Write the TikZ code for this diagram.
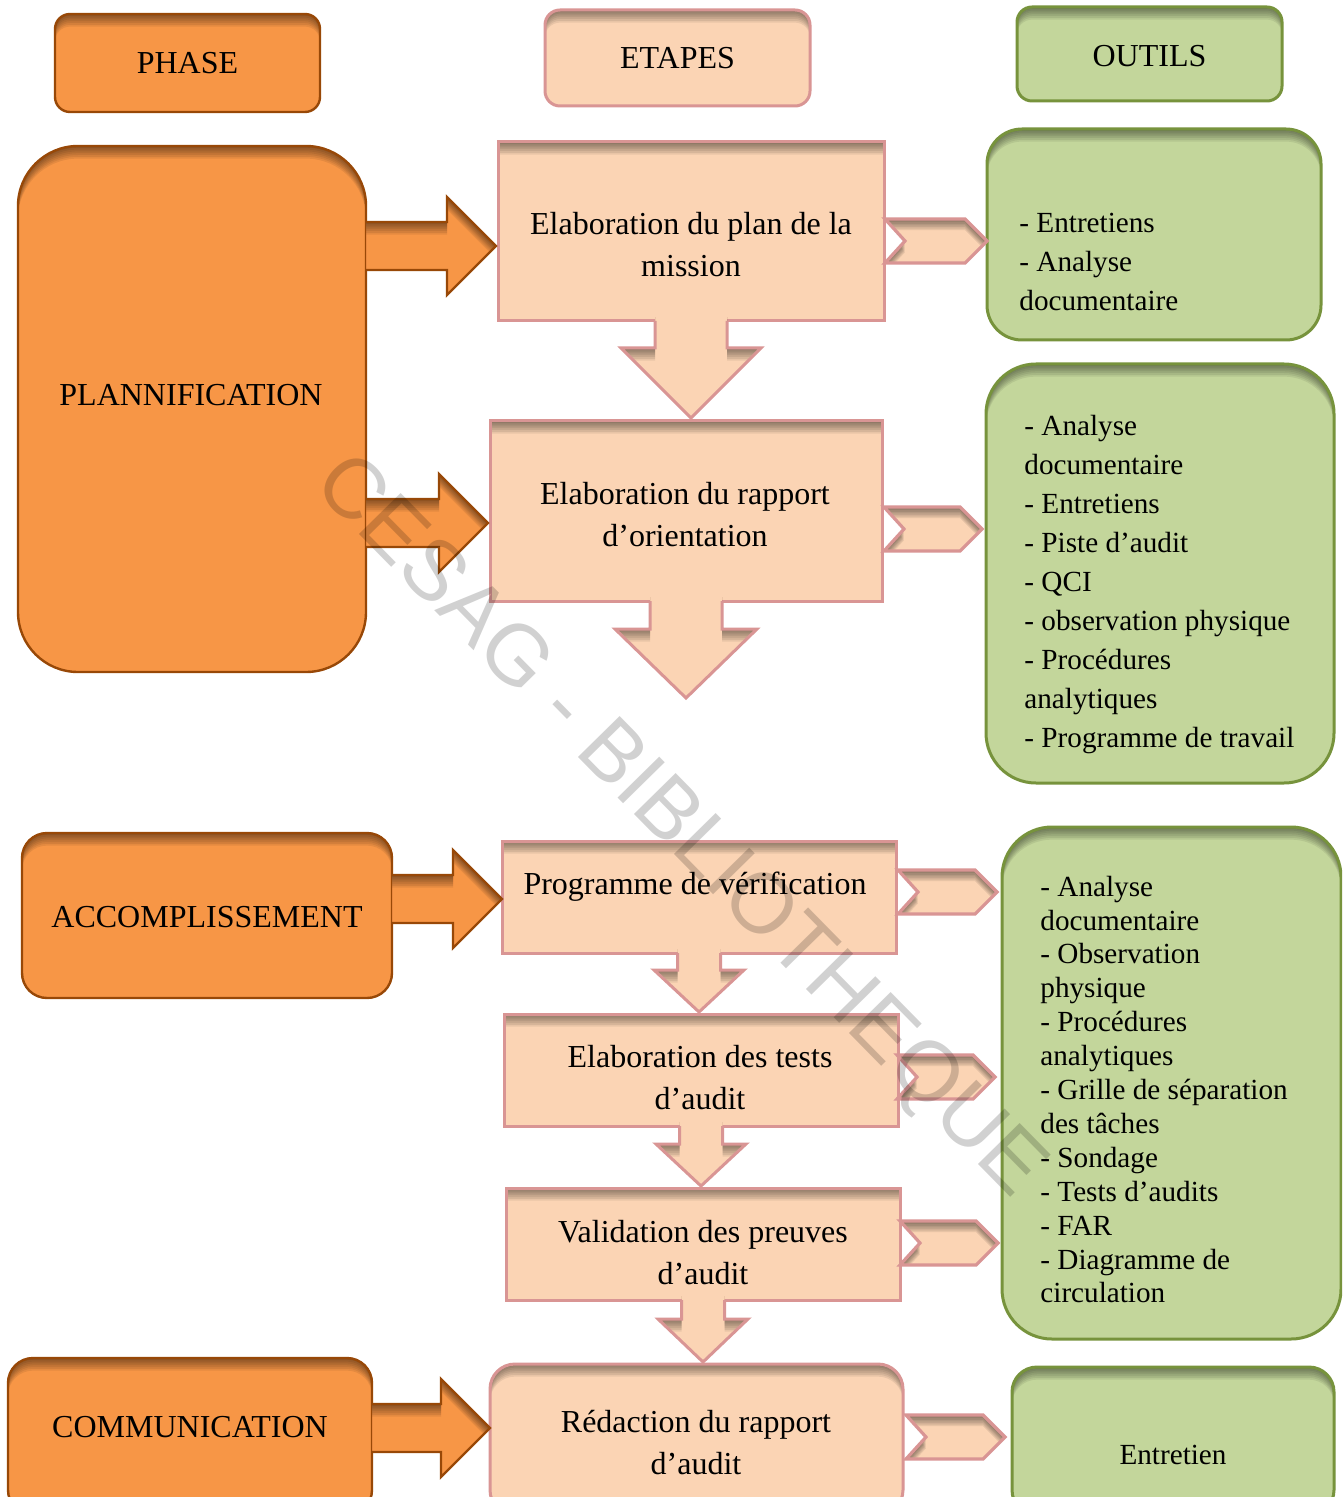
\documentclass[tikz,border=0pt]{standalone}
\usepackage{fontspec}
\setmainfont{Liberation Serif}
\newfontfamily\wmfont{Liberation Sans}
\usetikzlibrary{calc}

\definecolor{orfill}{HTML}{F79646}
\definecolor{ordraw}{HTML}{984807}
\definecolor{pefill}{HTML}{FBD4B4}
\definecolor{pedraw}{HTML}{D99594}
\definecolor{grfill}{HTML}{C3D69B}
\definecolor{grdraw}{HTML}{77933C}

\tikzset{
  inshadow/.style={path picture={
    \foreach \k in {1,...,7}{
      \fill[black,opacity=0.075,even odd rule,rounded corners=#1]
        ([shift={(-40pt,40pt)}]path picture bounding box.north west) rectangle ([shift={(40pt,-40pt)}]path picture bounding box.south east)
        ([yshift=-\k*0.9pt]path picture bounding box.north west) rectangle ([yshift=-\k*0.9pt]path picture bounding box.south east);
    }}},
  basebox/.style={inner sep=0pt, outer sep=0pt},
  phasebox/.style={basebox, fill=orfill, draw=ordraw, line width=1.2pt, rounded corners=#1, inshadow=#1},
  phasebox/.default=0pt,
  stepbox/.style={basebox, fill=pefill, draw=pedraw, line width=1.5pt, rounded corners=#1, inshadow=#1},
  stepbox/.default=0pt,
  toolbox/.style={basebox, fill=grfill, draw=grdraw, line width=1.5pt, rounded corners=#1, inshadow=#1},
  toolbox/.default=0pt,
  steptext/.style={font=\fontsize{16}{21}\selectfont, align=center, inner sep=0pt},
  tooltext/.style={font=\fontsize{14.6}{19.5}\selectfont, align=left, anchor=north west, inner sep=0pt},
}

% outline of an orange block arrow: tail centre, tip, downward offset
\newcommand\orarrowpath[3]{($(#1)+(0,-24+#3)$) -- ($(#2)+(-49,-24+#3)$) -- ($(#2)+(-49,-49+#3)$) -- ($(#2)+(0,#3)$) -- ($(#2)+(-49,49+#3)$) -- ($(#2)+(-49,24+#3)$) -- ($(#1)+(0,24+#3)$)}
% outline of a downward block arrow: start, tip, shaft half width, head half width, head length, offset, extension above start
\newcommand\dnarrowpath[7]{($(#1)+(-#3,-#7+#6)$) -- ($(#2)+(-#3,-#5+#6)$) -- ($(#2)+(-#4,-#5+#6)$) -- ($(#2)+(0,#6)$) -- ($(#2)+(#4,-#5+#6)$) -- ($(#2)+(#3,-#5+#6)$) -- ($(#1)+(#3,-#7+#6)$)}
% outline of a notched chevron: mouth centre, tip, offset
\newcommand\chevronpath[3]{($(#1)+(0,-22+#3)$) -- ($(#2)+(-22,-22+#3)$) -- ($(#2)+(0,#3)$) -- ($(#2)+(-22,22+#3)$) -- ($(#1)+(0,22+#3)$) -- ($(#1)+(20,#3)$)}

\newcommand\orangearrow[2]{%
  \fill[orfill] \orarrowpath{#1}{#2}{0} -- cycle;
  \begin{scope}
    \clip \orarrowpath{#1}{#2}{0} -- cycle;
    \foreach \k in {1,...,7}{
      \fill[black,opacity=0.075,even odd rule] (-300,-300) rectangle (1700,1800) \orarrowpath{#1}{#2}{\k*1.8} -- cycle;
    }
  \end{scope}
  \draw[ordraw,line width=1.2pt] \orarrowpath{#1}{#2}{0};
}
\newcommand\peachdown[5]{%
  \fill[pefill] \dnarrowpath{#1}{#2}{#3}{#4}{#5}{0}{4} -- cycle;
  \begin{scope}
    \clip \dnarrowpath{#1}{#2}{#3}{#4}{#5}{0}{4} -- cycle;
    \foreach \k in {1,...,7}{
      \fill[black,opacity=0.075,even odd rule] (-300,-300) rectangle (1700,1800) \dnarrowpath{#1}{#2}{#3}{#4}{#5}{\k*1.8}{60} -- cycle;
    }
  \end{scope}
  \draw[pedraw,line width=1.5pt] \dnarrowpath{#1}{#2}{#3}{#4}{#5}{0}{0};
}
\newcommand\peachchevron[2]{%
  \fill[pefill] \chevronpath{#1}{#2}{0} -- cycle;
  \begin{scope}
    \clip \chevronpath{#1}{#2}{0} -- cycle;
    \foreach \k in {1,...,7}{
      \fill[black,opacity=0.08,even odd rule] (-300,-300) rectangle (1700,1800) \chevronpath{#1}{#2}{\k*1.6} -- cycle;
    }
  \end{scope}
  \draw[pedraw,line width=1.6pt] \chevronpath{#1}{#2}{0} -- cycle;
}

\begin{document}
\begin{tikzpicture}[x=0.5pt,y=-0.5pt]
\fill[white] (0,0) rectangle (1342,1497);
\useasboundingbox (0,0) rectangle (1342,1497);
\clip (0,0) rectangle (1342,1497);

% column headers
\node[phasebox=7.5pt, minimum width=132.5pt, minimum height=49pt, steptext] (hphase) at (187.5,63) {PHASE};
\node[stepbox=7.5pt, minimum width=132.5pt, minimum height=48pt, steptext] (hsteps) at (677.5,58) {ETAPES};
\node[toolbox=7.5pt, minimum width=132.5pt, minimum height=47pt] (htools) at (1149.5,54) {};
\node[steptext] (htoolst) at (1149.5,56) {OUTILS};

% phases
\node[phasebox=30pt, minimum width=174pt, minimum height=263pt] (plan) at (192,409) {};
\node[steptext] (plantext) at (191,395) {PLANNIFICATION};
\node[phasebox=12.5pt, minimum width=185pt, minimum height=82.5pt] (acc) at (207,915.5) {};
\node[steptext] (acctext) at (207,917) {ACCOMPLISSEMENT};
\node[phasebox=12.5pt, minimum width=182pt, minimum height=78.5pt] (comm) at (190,1436.5) {};
\node[steptext] (commtext) at (190,1427) {COMMUNICATION};

% steps
\node[stepbox, minimum width=193pt, minimum height=89.5pt] (e1) at (691,231.5) {};
\node[steptext] (e1t) at (691,245) {Elaboration du plan de la\\mission};
\node[stepbox, minimum width=196pt, minimum height=90pt] (e2) at (686,511) {};
\node[steptext] (e2t) at (685,515) {Elaboration du rapport\\d’orientation};
\node[stepbox, minimum width=197pt, minimum height=56pt] (e3) at (699,897) {};
\node[steptext] (e3t) at (695,887) {Programme de vérification};
\node[stepbox, minimum width=197pt, minimum height=56pt] (e4) at (701,1070) {};
\node[steptext] (e4t) at (700,1078) {Elaboration des tests\\d’audit};
\node[stepbox, minimum width=197pt, minimum height=56pt] (e5) at (703,1244) {};
\node[steptext] (e5t) at (703,1252.5) {Validation des preuves\\d’audit};
\node[stepbox=12.5pt, minimum width=206.5pt, minimum height=75.5pt] (e6) at (696.5,1439.5) {};
\node[steptext] (e6t) at (696,1443) {Rédaction du rapport\\d’audit};

% tools
\node[toolbox=17.5pt, minimum width=167pt, minimum height=105.5pt] (g1) at (1154,234.5) {};
\node[tooltext] (g1t) at (1019,213) {- Entretiens\\- Analyse\\documentaire};
\node[toolbox=25pt, minimum width=174pt, minimum height=209.5pt] (g2) at (1160,573.5) {};
\node[tooltext] (g2t) at (1024,415) {- Analyse\\documentaire\\- Entretiens\\- Piste d’audit\\- QCI\\- observation physique\\- Procédures\\analytiques\\- Programme de travail};
\node[toolbox=25pt, minimum width=169.5pt, minimum height=256pt] (g3) at (1171.5,1083) {};
\node[tooltext, font=\fontsize{14.6}{16.95}\selectfont] (g3t) at (1040,875.5) {- Analyse\\documentaire\\- Observation\\physique\\- Procédures\\analytiques\\- Grille de séparation\\des tâches\\- Sondage\\- Tests d’audits\\- FAR\\- Diagramme de\\circulation};
\node[toolbox=12.5pt, minimum width=161pt, minimum height=74pt] (g4) at (1173,1441) {};
\node[steptext, font=\fontsize{14.6}{19.5}\selectfont] (g4t) at (1173,1455) {Entretien};

% phase -> step arrows
\coordinate (a1t) at ($(e1.west)+(-2,14.5)$);
\coordinate (a1s) at (plan.east |- a1t);
\coordinate (a2t) at ($(e2.west)+(-2,12)$);
\coordinate (a2s) at (plan.east |- a2t);
\coordinate (a3t) at ($(e3.west)+(0,2)$);
\coordinate (a3s) at (acc.east |- a3t);
\coordinate (a4t) at ($(e6.west)+(0,-11.5)$);
\coordinate (a4s) at (comm.east |- a4t);
\orangearrow{a1s}{a1t}
\orangearrow{a2s}{a2t}
\orangearrow{a3s}{a3t}
\orangearrow{a4s}{a4t}

% step -> step arrows
\coordinate (d1t) at ($(e1.south |- e2.north)+(0,-3)$);
\coordinate (d2t) at ($(e2.south)+(0,97)$);
\coordinate (d3t) at ($(e3.south |- e4.north)+(0,-2)$);
\coordinate (d4t) at ($(e4.south |- e5.north)+(0,-2)$);
\coordinate (d5t) at ($(e5.south |- e6.north)+(0,-2)$);
\peachdown{e1.south}{d1t}{36}{70}{70}
\peachdown{e2.south}{d2t}{36}{71}{69}
\peachdown{e3.south}{d3t}{21.5}{45}{42}
\peachdown{e4.south}{d4t}{21.5}{45}{42}
\peachdown{e5.south}{d5t}{21.5}{45}{43}

% step -> tool chevrons
\coordinate (c1s) at ($(e1.east)+(1,9.5)$);
\coordinate (c1t) at (g1.west |- c1s);
\coordinate (c2s) at ($(e2.east)+(2,18)$);
\coordinate (c2t) at ($(g2.west |- c2s)+(-4,0)$);
\coordinate (c3s) at ($(e3.east)+(2,-5)$);
\coordinate (c3t) at ($(g3.west |- c3s)+(-5,0)$);
\coordinate (c4s) at ($(e4.east)+(-1,7)$);
\coordinate (c4t) at ($(g3.west |- c4s)+(-7,0)$);
\coordinate (c5s) at ($(e5.east)+(0,-1)$);
\coordinate (c5t) at ($(g3.west |- c5s)+(-4,0)$);
\coordinate (c6s) at ($(e6.east)+(3,-2.5)$);
\coordinate (c6t) at ($(g4.west |- c6s)+(-7,0)$);
\peachchevron{c1s}{c1t}
\peachchevron{c2s}{c2t}
\peachchevron{c3s}{c3t}
\peachchevron{c4s}{c4t}
\peachchevron{c5s}{c5t}
\peachchevron{c6s}{c6t}

% library stamp
\node[rotate=-45.5, opacity=0.18, inner sep=0pt, font=\wmfont\fontsize{42.5}{48}\selectfont] (stamp) at (678,828) {CESAG - BIBLIOTHEQUE};
\end{tikzpicture}
\end{document}
